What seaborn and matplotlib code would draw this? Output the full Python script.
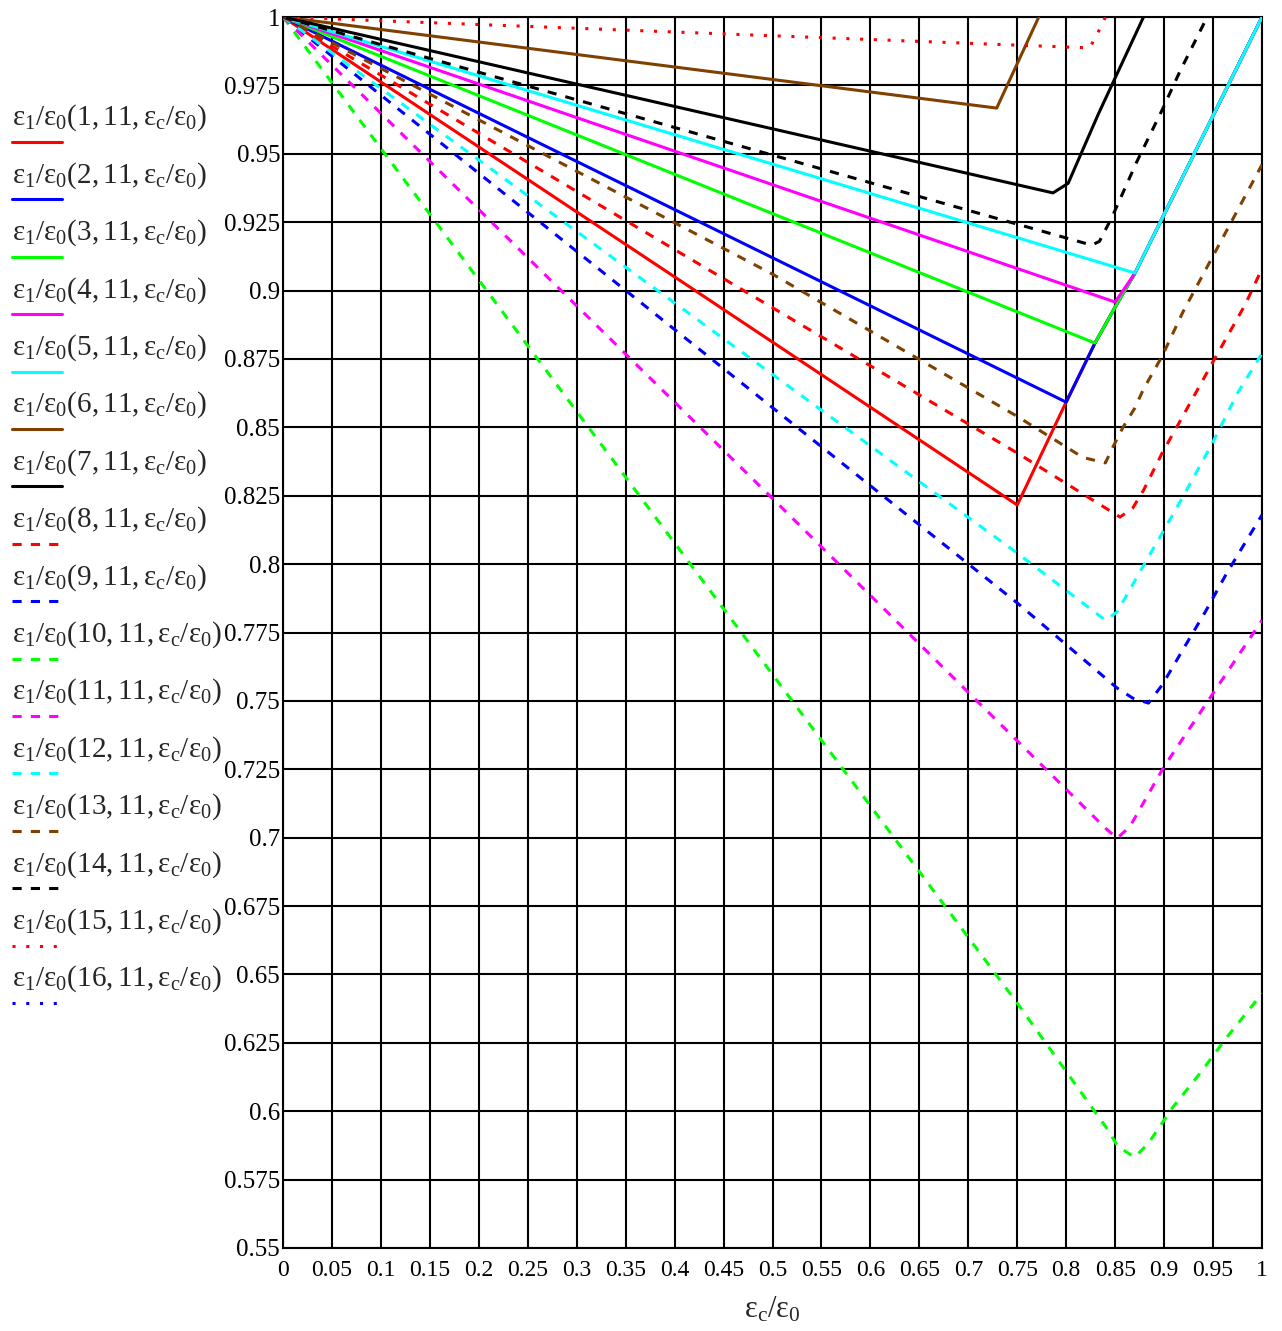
import matplotlib
matplotlib.use('Agg')
import matplotlib.pyplot as plt
from matplotlib.lines import Line2D
import seaborn as sns
import numpy as np

# curves: eps_c/eps_0 on x, eps_1/eps_0 on y
x1 = [0, 0.4, 0.75, 0.8, 0.8294, 0.8529, 0.8703, 1.0]
y1 = [1, 0.905, 0.8216, 0.8593, 0.8808, 0.8958, 0.9064, 1.0]
x2 = [0, 0.8, 0.8294, 0.8529, 0.8703, 1.0]
y2 = [1, 0.8592, 0.8808, 0.8958, 0.9064, 1.0]
x3 = [0, 0.8294, 0.8529, 0.8703, 1.0]
y3 = [1, 0.8808, 0.8958, 0.9064, 1.0]
x4 = [0, 0.85, 0.8703, 1.0]
y4 = [1, 0.8958, 0.9064, 1.0]
x5 = [0, 0.8703, 1.0]
y5 = [1, 0.9064, 1.0]
x6 = [0, 0.729, 0.772]
y6 = [1, 0.9667, 1.0]
x7 = [0, 0.7865, 0.802, 0.8328, 0.879]
y7 = [1, 0.9357, 0.9392, 0.9645, 1.0]
x8 = [0, 0.75, 0.855, 0.868, 0.879, 0.898, 0.919, 0.950, 0.983, 1.0]
y8 = [1, 0.8406, 0.8172, 0.8205, 0.827, 0.8406, 0.854, 0.874, 0.895, 0.908]
x9 = [0, 0.75, 0.852, 0.868, 0.884, 0.898, 0.919, 0.942, 0.964, 1.0]
y9 = [1, 0.7858, 0.7547, 0.751, 0.7492, 0.7558, 0.7686, 0.7825, 0.7967, 0.818]
x10 = [0, 0.75, 0.841, 0.853, 0.870, 0.884, 0.909, 0.937, 0.964, 1.0]
y10 = [1, 0.6395, 0.594, 0.587, 0.5832, 0.5883, 0.6015, 0.614, 0.627, 0.643]
x11 = [0, 0.5, 0.84, 0.852, 0.865, 0.9, 1.0]
y11 = [1, 0.824, 0.7035, 0.6998, 0.704, 0.726, 0.7795]
x12 = [0, 0.75, 0.840, 0.852, 0.875, 0.898, 0.919, 0.949, 0.975, 1.0]
y12 = [1, 0.804, 0.7795, 0.7825, 0.797, 0.8113, 0.8245, 0.844, 0.8625, 0.877]
x13 = [0, 0.5, 0.75, 0.817, 0.84, 0.848, 0.858, 0.870, 0.879, 0.898, 0.919, 1.0]
y13 = [1, 0.906, 0.854, 0.839, 0.837, 0.843, 0.850, 0.857, 0.864, 0.876, 0.892, 0.946]
x14 = [0, 0.826, 0.834, 0.847, 0.872, 0.898, 0.916, 0.944]
y14 = [1, 0.9166, 0.918, 0.927, 0.947, 0.966, 0.980, 1.0]
x15 = [0, 0.824, 0.832, 0.840]
y15 = [1, 0.9887, 0.994, 1.0]
x16 = [0, 0.02]
y16 = [1.0, 1.006]

series_ids = list(range(1, 17))
colors = ['#ff0000', '#0000ff', '#00ff00', '#ff00ff', '#00ffff', '#804000', '#000000',
          '#ff0000', '#0000ff', '#00ff00', '#ff00ff', '#00ffff', '#804000', '#000000',
          '#ff0000', '#0000ff']
styles = ['solid'] * 7 + ['dash'] * 7 + ['dot'] * 2
labels = ['$\\mathrm{ε_1/ε_0(' + str(n) + ',11,ε_c/ε_0)}$' for n in series_ids]

xticks = np.linspace(0, 1, 21)
yticks = np.linspace(0.55, 1, 19)

xs = [x1, x2, x3, x4, x5, x6, x7, x8, x9, x10, x11, x12, x13, x14, x15, x16]
ys = [y1, y2, y3, y4, y5, y6, y7, y8, y9, y10, y11, y12, y13, y14, y15, y16]

sns.set_style('white')
plt.rcParams['font.family'] = ['Liberation Serif', 'DejaVu Serif']
plt.rcParams['mathtext.fontset'] = 'custom'
plt.rcParams['mathtext.rm'] = 'Liberation Serif'
plt.rcParams['mathtext.it'] = 'Liberation Serif:italic'

dash_map = {'solid': None, 'dash': (3, 3), 'dot': (1, 3.5)}
W, H = 1282, 1331

fig = plt.figure(figsize=(W / 100, H / 100), dpi=100)
ax = fig.add_axes([283 / W, 83 / H, 979 / W, 1231 / H])

for i in range(16):
    sns.lineplot(x=xs[i], y=ys[i], ax=ax, color=colors[i], linewidth=2.2,
                 estimator=None, sort=False, zorder=3)
    line = ax.lines[-1]
    if dash_map[styles[i]] is not None:
        line.set_dashes(dash_map[styles[i]])

ax.set_xlim(0, 1)
ax.set_ylim(0.55, 1)
ax.set_xticks(xticks)
ax.set_xticklabels(['%g' % round(v, 3) for v in xticks])
ax.set_yticks(yticks)
ax.set_yticklabels(['%g' % round(v, 3) for v in yticks])
ax.grid(True, color='black', linewidth=1.5)
ax.set_axisbelow(True)
for s in ax.spines.values():
    s.set_color('black')
    s.set_linewidth(1.5)
ax.tick_params(length=0, labelsize=18, colors='black')
ax.tick_params(axis='x', pad=9, labelsize=17)
ax.tick_params(axis='y', pad=2)
ax.set_xlabel('$\\mathrm{ε_c/ε_0}$', fontsize=22, labelpad=10)

# legend drawn at the left, sample line under each label
for i in range(16):
    yl = 142 + i * 57.4
    fy = 1 - yl / H
    ln = Line2D([12 / W, 62 / W], [fy, fy], transform=fig.transFigure,
                color=colors[i], linewidth=2.2)
    if dash_map[styles[i]] is not None:
        ln.set_dashes(dash_map[styles[i]])
    fig.add_artist(ln)
    fig.text(12 / W, 1 - (yl - 17) / H, labels[i], fontsize=21, va='baseline', ha='left')

fig.savefig('out.png', dpi=100)
